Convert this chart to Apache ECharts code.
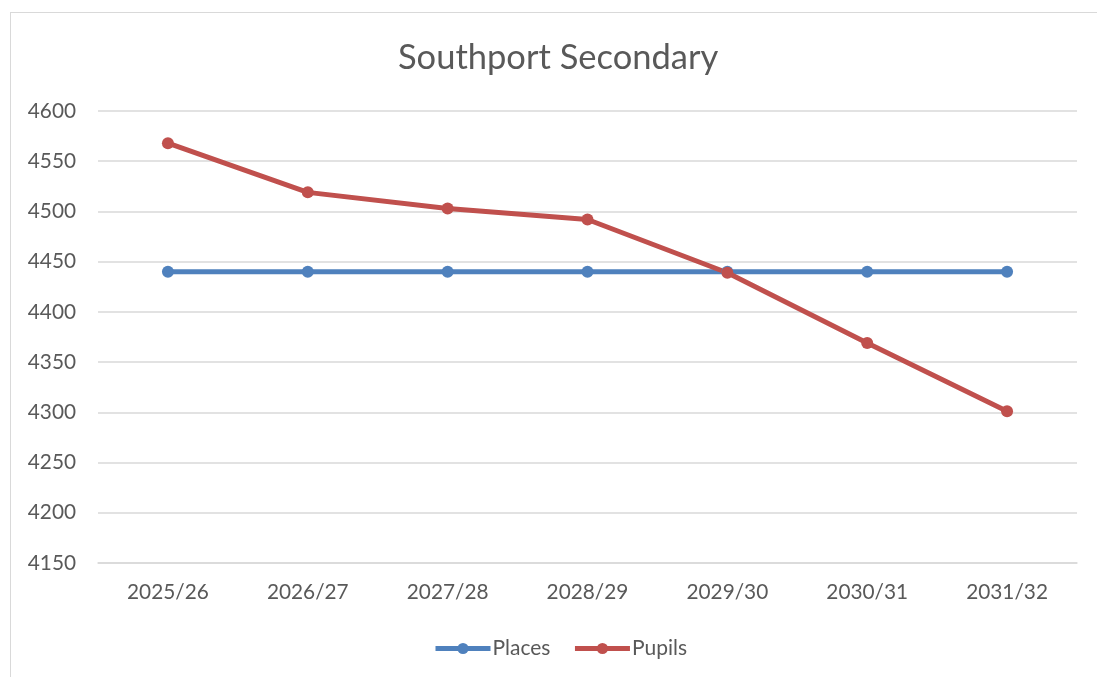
<!DOCTYPE html>
<html>
<head>
<meta charset="utf-8">
<script src="https://cdn.jsdelivr.net/npm/echarts@6/dist/echarts.min.js"></script>
<style>
html,body{margin:0;padding:0;background:#fff;}
#wrap{position:relative;width:1097px;height:677px;overflow:hidden;}
#frame{position:absolute;left:10px;top:12px;width:1200px;height:800px;border:1.5px solid #d9d9d9;box-sizing:border-box;pointer-events:none;}
#chart{position:absolute;left:0;top:0;width:1097px;height:677px;}
</style>
</head>
<body>
<div id="wrap"><div id="chart"></div><div id="frame"></div></div>
<script>
const categories = ['2025/26','2026/27','2027/28','2028/29','2029/30','2030/31','2031/32'];
const places = [4440,4440,4440,4440,4440,4440,4440];
const pupils = [4568,4519,4503,4492,4439,4369,4301];
const yTicks = {min:4150, max:4600, interval:50};

const font = 'Lato, "Open Sans", sans-serif';
const chart = echarts.init(document.getElementById('chart'), null, {renderer:'canvas'});
chart.setOption({
  animation:false,
  title:{text:'Southport Secondary', left:393, top:35, textStyle:{fontFamily:font, fontSize:34.5, fontWeight:'normal', color:'#595959'}},
  grid:{left:98, right:20, top:111, bottom:114, containLabel:false},
  legend:{bottom:13, left:428, itemWidth:55, itemHeight:14, itemGap:22,
    lineStyle:{width:5},
    textStyle:{fontFamily:font, fontSize:21, color:'#595959', padding:[0,0,0,-3]},
    data:['Places','Pupils']},
  xAxis:{type:'category', data:categories, boundaryGap:true,
    axisLine:{show:true, lineStyle:{color:'#d9d9d9', width:1.5}}, axisTick:{show:false},
    axisLabel:{fontFamily:font, fontSize:20.8, color:'#595959', margin:19}},
  yAxis:{type:'value', min:yTicks.min, max:yTicks.max, interval:yTicks.interval,
    axisLine:{show:false}, axisTick:{show:false},
    splitLine:{lineStyle:{color:'#d9d9d9', width:1.5}},
    axisLabel:{fontFamily:font, fontSize:20.8, color:'#595959', margin:22, formatter:v=>String(v)}},
  series:[
    {name:'Places', type:'line', data:places, symbol:'circle', symbolSize:12,
      lineStyle:{width:5, color:'#4f81bd'}, itemStyle:{color:'#4f81bd'}},
    {name:'Pupils', type:'line', data:pupils, symbol:'circle', symbolSize:12,
      lineStyle:{width:5, color:'#c0504d'}, itemStyle:{color:'#c0504d'}}
  ]
});
</script>
</body>
</html>
